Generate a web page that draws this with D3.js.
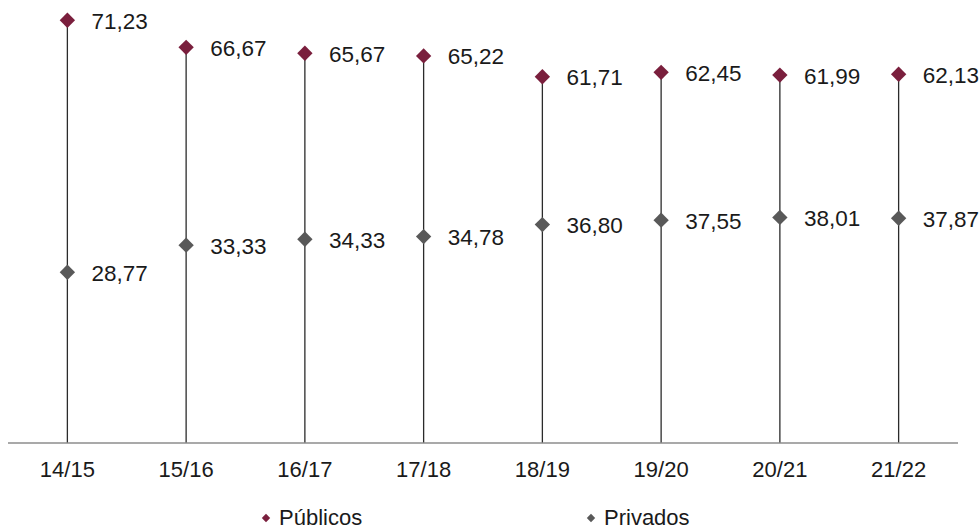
<!DOCTYPE html>
<meta charset="utf-8">
<script src="https://d3js.org/d3.v7.min.js"></script>
<style>
body { margin: 0; background: #fff; }
text { font-family: "Liberation Sans", Arial, sans-serif; fill: #1a1a1a; }
</style>
<body>
<div id="chart"></div>
</body>
<script>
// data
const years = ["14/15", "15/16", "16/17", "17/18", "18/19", "19/20", "20/21", "21/22"];
const publicos = [71.23, 66.67, 65.67, 65.22, 61.71, 62.45, 61.99, 62.13];
const privados = [28.77, 33.33, 34.33, 34.78, 36.80, 37.55, 38.01, 37.87];
const seriesNames = ["Públicos", "Privados"];
const seriesColors = ["#7a1f3d", "#595959"];

const width = 979, height = 531;
const axisY = 443;

const svg = d3.select("#chart").append("svg")
  .attr("width", width)
  .attr("height", height);

const x = d3.scaleBand().domain(years).range([8, 958]);
const y = d3.scaleLinear().domain([0, 70]).range([axisY, axisY - 70 * 5.935]);

const fmt = v => d3.format(".2f")(v).replace(".", ",");
const cx = d => x(d) + x.bandwidth() / 2;

// stems
svg.append("g").selectAll("line")
  .data(years)
  .enter().append("line")
  .attr("x1", d => cx(d)).attr("x2", d => cx(d))
  .attr("y1", axisY)
  .attr("y2", (d, i) => y(publicos[i]))
  .style("stroke", "#2b2b2b")
  .style("stroke-width", 1.3);

// axis line
svg.append("line")
  .attr("x1", 8).attr("x2", 958)
  .attr("y1", axisY).attr("y2", axisY)
  .style("stroke", "#8c8c8c")
  .style("stroke-width", 1.3);

// tick labels
svg.append("g").selectAll("text")
  .data(years)
  .enter().append("text")
  .attr("x", d => cx(d))
  .attr("y", 477)
  .attr("text-anchor", "middle")
  .style("font-size", "22px")
  .text(d => d);

const diamond = d3.symbol().type(d3.symbolDiamond2).size(150);

[publicos, privados].forEach((vals, s) => {
  const g = svg.append("g");
  g.selectAll("path")
    .data(vals)
    .enter().append("path")
    .attr("d", diamond)
    .attr("transform", (d, i) => `translate(${cx(years[i])},${y(d)})`)
    .style("fill", seriesColors[s]);
  g.selectAll("text")
    .data(vals)
    .enter().append("text")
    .attr("x", (d, i) => cx(years[i]) + 24)
    .attr("y", d => y(d) + 8.5)
    .style("font-size", "22.5px")
    .text(d => fmt(d));
});

// legend
const legendX = [266, 591];
const legend = svg.append("g");
seriesNames.forEach((name, s) => {
  legend.append("path")
    .attr("d", d3.symbol().type(d3.symbolDiamond2).size(45))
    .attr("transform", `translate(${legendX[s]},518)`)
    .style("fill", seriesColors[s]);
  legend.append("text")
    .attr("x", legendX[s] + 13)
    .attr("y", 525)
    .style("font-size", "22px")
    .text(name);
});
</script>
